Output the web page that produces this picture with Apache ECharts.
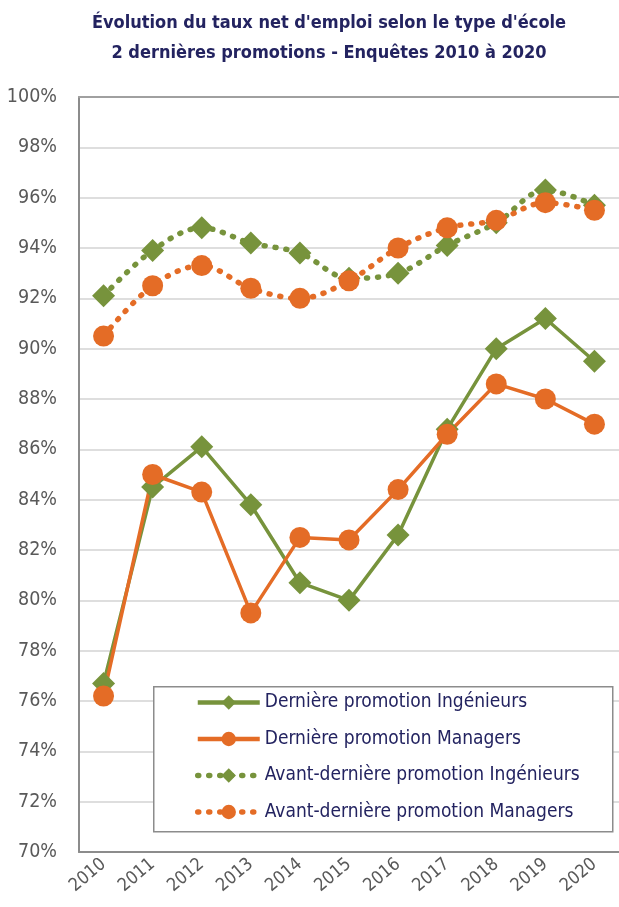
<!DOCTYPE html>
<html>
<head>
<meta charset="utf-8">
<script src="https://cdn.jsdelivr.net/npm/echarts@6/dist/echarts.min.js"></script>
<style>
  html, body { margin: 0; padding: 0; background: #fff; }
  #chart { width: 619px; height: 907px; }
</style>
</head>
<body>
<div id="chart"></div>
<script>
// années d'enquête
const annees = ['2010', '2011', '2012', '2013', '2014', '2015', '2016', '2017', '2018', '2019', '2020'];
// taux net d'emploi (%)
const derniereIngenieurs = [76.7, 84.5, 86.1, 83.8, 80.7, 80.0, 82.6, 86.8, 90.0, 91.2, 89.5];
const derniereManagers = [76.2, 85.0, 84.3, 79.5, 82.5, 82.4, 84.4, 86.6, 88.6, 88.0, 87.0];
const avantDerniereIngenieurs = [92.1, 93.9, 94.8, 94.2, 93.8, 92.8, 93.0, 94.1, 95.0, 96.3, 95.7];
const avantDerniereManagers = [90.5, 92.5, 93.3, 92.4, 92.0, 92.7, 94.0, 94.8, 95.1, 95.8, 95.5];

const VERT = '#77933C';
const ORANGE = '#E46C26';
const FONT = '"DejaVu Sans Condensed", "Liberation Sans", sans-serif';
const POINTILLE = [1, 10];

const chart = echarts.init(document.getElementById('chart'));

function serie(nom, data, couleur, symbole, pointille) {
  return {
    name: nom,
    type: 'line',
    data: data,
    smooth: pointille ? 0.35 : false,
    symbol: symbole,
    symbolSize: symbole === 'diamond' ? 23 : 21,
    itemStyle: { color: couleur },
    lineStyle: pointille
      ? { color: couleur, width: 5.5, type: POINTILLE, cap: 'round' }
      : { color: couleur, width: 3.5 },
    emphasis: { disabled: true },
    animation: false
  };
}

function itemLegende(nom, couleur, pointille) {
  return {
    name: nom,
    lineStyle: pointille
      ? { color: couleur, width: 5.5, type: POINTILLE, cap: 'round' }
      : { color: couleur, width: 4.5 }
  };
}

const option = {
  animation: false,
  title: {
    text: "Évolution du taux net d'emploi selon le type d'école\n2 dernières promotions - Enquêtes 2010 à 2020",
    left: 324,
    top: 3,
    textAlign: 'center',
    textStyle: { fontFamily: FONT, fontSize: 18, fontWeight: 'bold', color: '#232360', lineHeight: 30 }
  },
  grid: { left: 79, top: 97, width: 550, height: 755 },
  xAxis: [{
    type: 'category',
    data: annees,
    boundaryGap: true,
    axisLine: { lineStyle: { color: '#8C8C8C', width: 2 } },
    axisTick: { show: false },
    axisLabel: { rotate: 40, fontFamily: FONT, fontSize: 18, color: '#595959', margin: 10 }
  }, {
    type: 'category',
    data: annees,
    position: 'top',
    axisLine: { lineStyle: { color: '#A0A0A0', width: 2 } },
    axisTick: { show: false },
    axisLabel: { show: false }
  }],
  yAxis: {
    type: 'value',
    min: 70,
    max: 100,
    interval: 2,
    axisLine: { show: true, lineStyle: { color: '#8C8C8C', width: 2 } },
    axisTick: { show: false },
    splitLine: { lineStyle: { color: '#DEDEDE', width: 2 } },
    axisLabel: { formatter: '{value}%', fontFamily: FONT, fontSize: 19.5, color: '#595959', margin: 22 }
  },
  graphic: [{
    type: 'rect',
    left: 153,
    top: 686,
    shape: { width: 459, height: 145 },
    style: { fill: '#fff', stroke: '#8C8C8C', lineWidth: 1.5 },
    z: 50
  }],
  legend: {
    orient: 'vertical',
    left: 195,
    top: 693,
    padding: 0,
    itemWidth: 62,
    itemHeight: 18,
    itemGap: 17.5,
    z: 60,
    textStyle: { fontFamily: FONT, fontSize: 19, color: '#232360', lineHeight: 19 },
    data: [
      itemLegende('Dernière promotion Ingénieurs', VERT, false),
      itemLegende('Dernière promotion Managers', ORANGE, false),
      itemLegende('Avant-dernière promotion Ingénieurs', VERT, true),
      itemLegende('Avant-dernière promotion Managers', ORANGE, true)
    ]
  },
  series: [
    serie('Dernière promotion Ingénieurs', derniereIngenieurs, VERT, 'diamond', false),
    serie('Dernière promotion Managers', derniereManagers, ORANGE, 'circle', false),
    serie('Avant-dernière promotion Ingénieurs', avantDerniereIngenieurs, VERT, 'diamond', true),
    serie('Avant-dernière promotion Managers', avantDerniereManagers, ORANGE, 'circle', true)
  ]
};

chart.setOption(option);
</script>
</body>
</html>
